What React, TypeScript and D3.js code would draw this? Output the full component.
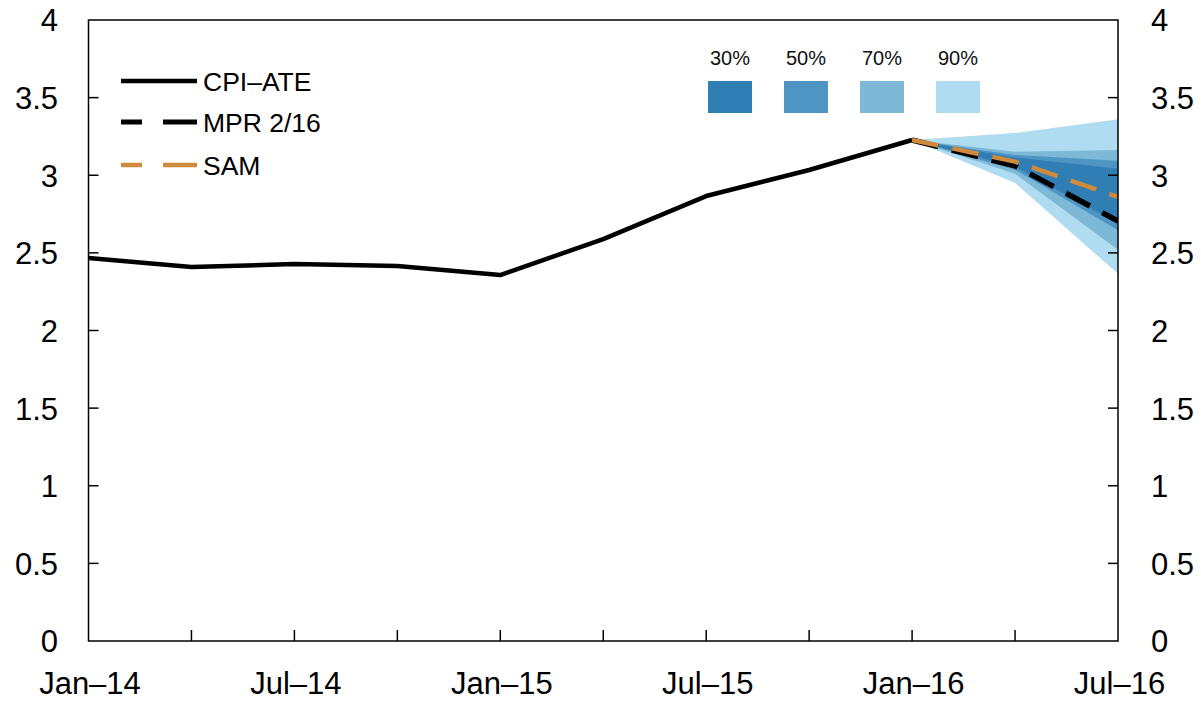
import React from "react";
import * as d3 from "d3";

const quarters = ["Jan–14", "Apr–14", "Jul–14", "Oct–14", "Jan–15", "Apr–15", "Jul–15", "Oct–15", "Jan–16", "Apr–16", "Jul–16"];
const xTickLabels = ["Jan–14", "Jul–14", "Jan–15", "Jul–15", "Jan–16", "Jul–16"];
const yTicks = [0, 0.5, 1, 1.5, 2, 2.5, 3, 3.5, 4];

const cpiAte = [2.467, 2.409, 2.428, 2.415, 2.357, 2.589, 2.866, 3.034, 3.227];
const forecastQuarters = ["Jan–16", "Apr–16", "Jul–16"];
const mpr216 = [3.227, 3.06, 2.705];
const sam = [3.227, 3.088, 2.86];

const fanLevels = ["90%", "70%", "50%", "30%"];
const fanLower = [
  [3.227, 2.95, 2.365],
  [3.227, 3.01, 2.52],
  [3.227, 3.035, 2.645],
  [3.227, 3.055, 2.69],
];
const fanUpper = [
  [3.227, 3.272, 3.36],
  [3.227, 3.152, 3.163],
  [3.227, 3.13, 3.094],
  [3.227, 3.115, 3.042],
];
const fanColors = ["#b0dcf1", "#7db9d7", "#4e95c3", "#317eb4"];
const legendFan = ["30%", "50%", "70%", "90%"];
const legendFanColors = ["#317eb4", "#4e95c3", "#7db9d7", "#b0dcf1"];

const W = 1201;
const H = 701;
const L = 88.5;
const R = 1118;
const T = 20;
const B = 641;
const FONT = "'Liberation Sans', Arial, Helvetica, sans-serif";

export default function App() {
  const x = d3.scalePoint<string>().domain(quarters).range([L, R]);
  const y = d3.scaleLinear().domain([0, 4]).range([B, T]);

  const line = d3
    .line<[string, number]>()
    .x((d) => x(d[0]) as number)
    .y((d) => y(d[1]));

  const bandPath = (k: number) =>
    d3
      .area<number>()
      .x((_, i) => x(forecastQuarters[i]) as number)
      .y0((_, i) => y(fanLower[k][i]))
      .y1((_, i) => y(fanUpper[k][i]))(fanLower[k]) as string;

  const cpiPath = line(quarters.slice(0, cpiAte.length).map((q, i) => [q, cpiAte[i]] as [string, number])) as string;
  const mprPath = line(forecastQuarters.map((q, i) => [q, mpr216[i]] as [string, number])) as string;
  const samPath = line(forecastQuarters.map((q, i) => [q, sam[i]] as [string, number])) as string;

  const legendLines = [
    { label: "CPI–ATE", color: "#000", dash: undefined, width: 4.5, y: 81 },
    { label: "MPR 2/16", color: "#000", dash: "21 21 40", width: 5, y: 122 },
    { label: "SAM", color: "#d08a3c", dash: "21 21 40", width: 4.5, y: 165 },
  ];

  return (
    <svg width={W} height={H} style={{ position: "absolute", left: 0, top: 0, background: "#fff" }} fontFamily={FONT}>
      <defs>
        <clipPath id="plot">
          <rect x={L} y={T} width={R - L} height={B - T} />
        </clipPath>
      </defs>
      <g clipPath="url(#plot)">
        {fanLevels.map((lv, k) => (
          <path key={lv} d={bandPath(k)} fill={fanColors[k]} stroke="none" />
        ))}
        <path d={cpiPath} fill="none" stroke="#000" strokeWidth={4.5} strokeLinejoin="round" />
        <path d={mprPath} fill="none" stroke="#000" strokeWidth={5.5} strokeDasharray="27 14" />
        <path d={samPath} fill="none" stroke="#d08a3c" strokeWidth={4.5} strokeDasharray="27 14" />
      </g>

      <rect x={L} y={T} width={R - L} height={B - T} fill="none" stroke="#000" strokeWidth={1.5} />

      {yTicks.map((t) => (
        <g key={t}>
          {t > 0 && t < 4 && (
            <>
              <line x1={L} x2={L + 10} y1={y(t)} y2={y(t)} stroke="#000" strokeWidth={1.5} />
              <line x1={R - 10} x2={R} y1={y(t)} y2={y(t)} stroke="#000" strokeWidth={1.5} />
            </>
          )}
          <text x={58} y={y(t)} dy="0.37em" textAnchor="end" fontSize={31} fill="#000">
            {String(t)}
          </text>
          <text x={1151} y={y(t)} dy="0.37em" textAnchor="start" fontSize={31} fill="#000">
            {String(t)}
          </text>
        </g>
      ))}

      {quarters.map((q, i) =>
        i > 0 && i < quarters.length - 1 ? (
          <line key={q} x1={x(q)} x2={x(q)} y1={B} y2={B - 11} stroke="#000" strokeWidth={1.5} />
        ) : null
      )}
      {xTickLabels.map((q) => (
        <text key={q} x={(x(q) as number) + 1.5} y={694} textAnchor="middle" fontSize={31} fill="#000">
          {q}
        </text>
      ))}

      {legendLines.map((l) => (
        <g key={l.label}>
          <line x1={121} x2={197} y1={l.y} y2={l.y} stroke={l.color} strokeWidth={l.width} strokeDasharray={l.dash} />
          <text x={203} y={l.y} dy="0.36em" fontSize={26.5} fill="#000">
            {l.label}
          </text>
        </g>
      ))}

      {legendFan.map((lab, i) => (
        <g key={lab}>
          <rect x={708 + i * 76} y={81} width={44} height={32} fill={legendFanColors[i]} />
          <text x={730 + i * 76} y={65} textAnchor="middle" fontSize={20} fill="#111">
            {lab}
          </text>
        </g>
      ))}
    </svg>
  );
}
